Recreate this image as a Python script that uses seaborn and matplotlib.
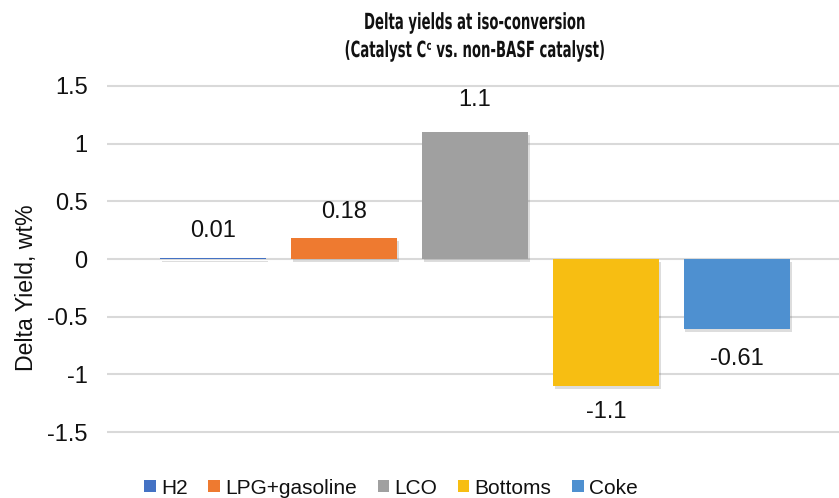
import matplotlib
matplotlib.use("Agg")
import matplotlib.pyplot as plt
import matplotlib.patheffects as pe
from matplotlib.patches import Patch
from matplotlib.transforms import Affine2D
import seaborn as sns
import pandas as pd

categories = ["H2", "LPG+gasoline", "LCO", "Bottoms", "Coke"]
delta_yield = [0.01, 0.18, 1.1, -1.1, -0.61]
value_labels = ["0.01", "0.18", "1.1", "-1.1", "-0.61"]
y_ticks = [-1.5, -1, -0.5, 0, 0.5, 1, 1.5]
y_tick_labels = ["-1.5", "-1", "-0.5", "0", "0.5", "1", "1.5"]
colors = ["#4472C4", "#EE7A30", "#A0A0A0", "#F7BE12", "#4E90D0"]

df = pd.DataFrame({"component": categories, "delta": delta_yield})

sns.set_theme(style="white")
plt.rcParams["font.family"] = ["Liberation Sans", "DejaVu Sans"]

W, H, DPI = 8.39, 4.98, 100
fig = plt.figure(figsize=(W, H), dpi=DPI)
ax = fig.add_axes([0.1275, 0.1209, 0.8725, 0.718])

sns.barplot(data=df, x="component", y="delta", hue="component",
            palette=colors, saturation=1, width=0.81, legend=False, ax=ax, zorder=3)

shadow = [pe.SimplePatchShadow(offset=(1.2, -2.2), shadow_rgbFace="#666666", alpha=0.22),
          pe.Normal()]
for bar in ax.patches:
    bar.set_linewidth(0)
    bar.set_path_effects(shadow)

# value labels just beyond each bar end
for i, (v, lab) in enumerate(zip(delta_yield, value_labels)):
    off = 19 if v >= 0 else -19
    if v >= 1:
        off = 23
    if -1 < v < 0:
        off = -21
    ax.annotate(lab, xy=(i, v), xytext=(0, off), textcoords="offset points",
                ha="center", va="center", fontsize=17, color="#111111")

ax.set_xlim(-0.81, 4.78)
ax.set_ylim(-1.55, 1.55)
ax.set_yticks(y_ticks)
ax.set_yticklabels(y_tick_labels, fontsize=17, color="#111111")
ax.set_xticks([])
ax.set_xlabel("")
ax.set_ylabel("Delta Yield, wt%", fontsize=16.7, color="#111111")
ax.yaxis.set_label_coords(-0.094, 0.419)
ax.tick_params(axis="y", length=0, pad=14)
ax.grid(axis="y", color="#D9D9D9", linewidth=1.5, zorder=0)
ax.set_axisbelow(True)
for s in ax.spines.values():
    s.set_visible(False)

handles = [Patch(facecolor=c, edgecolor="none") for c in colors]
fig.legend(handles, categories, loc="center", bbox_to_anchor=(391 / 839, 1 - 488 / 498),
           ncol=5, frameon=False, fontsize=15, handlelength=0.55, handleheight=0.55,
           handletextpad=0.25, columnspacing=1.0, labelcolor="#111111")


class Condense(pe.AbstractPathEffect):
    """Draw text glyphs squeezed horizontally about a fixed x (pixels)."""

    def __init__(self, sx, cx):
        super().__init__()
        self.sx = sx
        self.cx = cx

    def draw_path(self, renderer, gc, tpath, affine, rgbFace=None):
        squeeze = Affine2D().translate(-self.cx, 0).scale(self.sx, 1).translate(self.cx, 0)
        renderer.draw_path(gc, tpath, affine + squeeze, rgbFace)


title_x = 475
title_kw = dict(ha="center", va="center", fontsize=16, color="#111111",
                family="DejaVu Sans", weight="bold",
                path_effects=[Condense(0.596, title_x)])
fig.text(title_x / 839, 1 - 23 / 498, "Delta yields at iso-conversion", **title_kw)
fig.text(title_x / 839, 1 - 51 / 498, "(Catalyst C\u1d9c vs. non-BASF catalyst)", **title_kw)

fig.savefig("out.png", dpi=DPI)
